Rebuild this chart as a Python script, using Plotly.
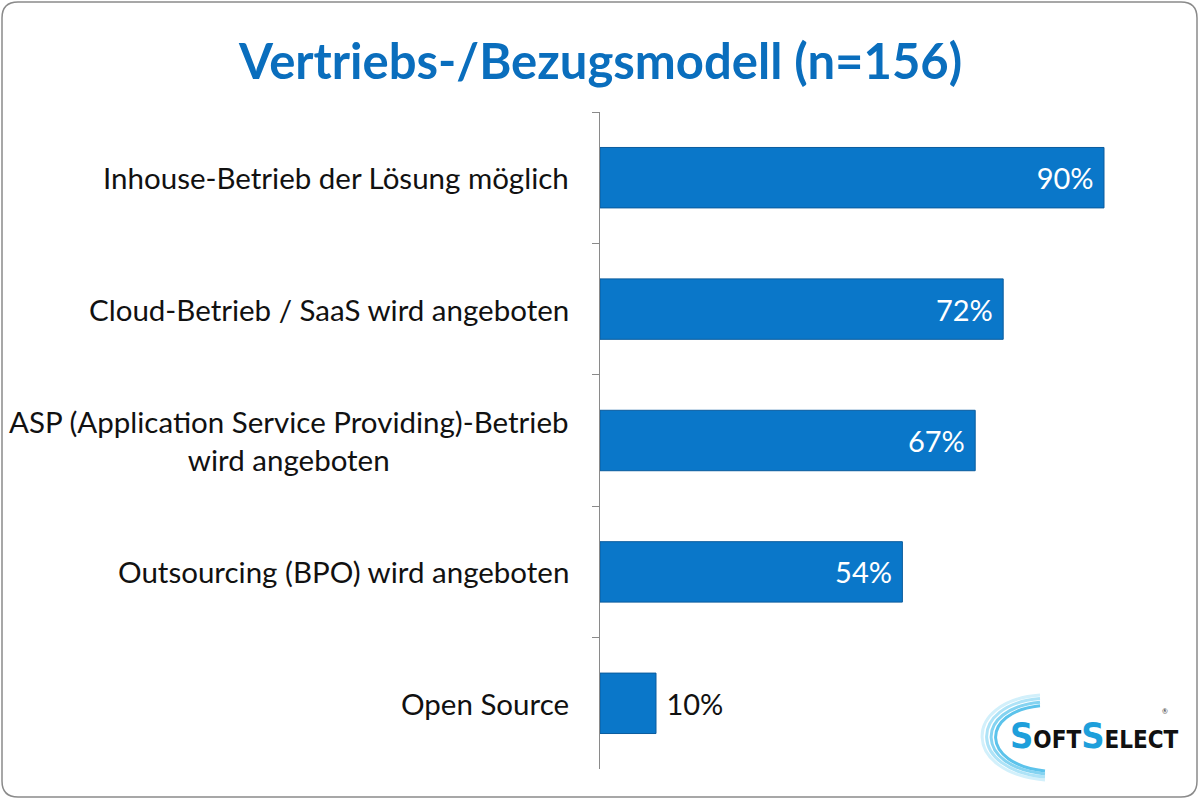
import plotly.graph_objects as go

title = "Vertriebs-/Bezugsmodell (n=156)"
categories = [
    "Inhouse-Betrieb der Lösung möglich",
    "Cloud-Betrieb / SaaS wird angeboten",
    "ASP (Application Service Providing)-Betrieb<br>wird angeboten",
    "Outsourcing (BPO) wird angeboten",
    "Open Source",
]
values = [90, 72, 67, 54, 10]
text_positions = ["inside", "inside", "inside", "inside", "outside"]

W, H = 1200, 800
ML, MR, MT, MB = 600, 40, 112, 31
PW, PH = W - ML - MR, H - MT - MB


def px(x):
    return (x - ML) / PW


def py(y):
    return (H - MB - y) / PH


FONT = "Lato, 'Open Sans', sans-serif"
BLUE = "#0A77C9"

labels = []
for v, pos in zip(values, text_positions):
    if pos == "inside":
        labels.append(f"{v}%\u00a0")
    else:
        labels.append(f"\u00a0{v}%")

fig = go.Figure()
fig.add_trace(go.Bar(
    x=values,
    y=categories,
    orientation="h",
    marker=dict(color=BLUE, line=dict(color="#0A5C9E", width=1)),
    text=labels,
    textposition=text_positions,
    insidetextanchor="end",
    insidetextfont=dict(color="white", size=29, family=FONT),
    outsidetextfont=dict(color="#111111", size=29, family=FONT),
    cliponaxis=False,
    hoverinfo="skip",
))

annotations = []
for c in categories:
    annotations.append(dict(
        x=px(571), xref="paper", y=c, yref="y",
        text=c, showarrow=False, xanchor="right", align="center",
        font=dict(size=29.5, color="#111111", family=FONT),
    ))

annotations.append(dict(
    x=px(600), xref="paper", y=py(60), yref="paper",
    text="<b>" + title + "</b>", showarrow=False, xanchor="center", yanchor="middle",
    font=dict(size=49, color="#0A6EBD", family=FONT),
))

# Logo text
big = "<span style='font-size:36px;color:#1E9FDB'>S</span>"
annotations.append(dict(
    x=px(1094), xref="paper", y=py(735), yref="paper",
    text="<b>" + big + "OFT" + big + "ELECT</b>",
    showarrow=False, xanchor="center", yanchor="middle",
    font=dict(size=24, color="#111111",
              family="'Liberation Sans Narrow', 'DejaVu Sans Condensed', 'Liberation Sans', sans-serif"),
))
annotations.append(dict(
    x=px(1170), xref="paper", y=py(717), yref="paper",
    text="®", showarrow=False, font=dict(size=7, color="#333"),
))

shapes = []
# rounded border
x0, x1, y0, y1, r = 2, 1197, 2, 797, 16
path = (f"M {px(x0 + r)},{py(y0)} L {px(x1 - r)},{py(y0)} Q {px(x1)},{py(y0)} {px(x1)},{py(y0 + r)} "
        f"L {px(x1)},{py(y1 - r)} Q {px(x1)},{py(y1)} {px(x1 - r)},{py(y1)} "
        f"L {px(x0 + r)},{py(y1)} Q {px(x0)},{py(y1)} {px(x0)},{py(y1 - r)} "
        f"L {px(x0)},{py(y0 + r)} Q {px(x0)},{py(y0)} {px(x0 + r)},{py(y0)} Z")
shapes.append(dict(type="path", path=path, xref="paper", yref="paper",
                   line=dict(color="#8a8a8a", width=1.5), layer="below"))

# logo arcs (decorative swoosh)
arc_cols = ["#D2F0FB", "#AEE3F7", "#84D3F1", "#5CC3EB"]
for i, col in enumerate(arc_cols):
    d = i * 6
    sx, sy = 1040, 695 + d * 0.6
    ex, ey = 1045, 780 - d * 0.5
    c1x, c1y = 962 + d, 701 + d * 0.6
    c2x, c2y = 962 + d, 773 - d * 0.5
    shapes.append(dict(
        type="path",
        path=f"M {px(sx)},{py(sy)} C {px(c1x)},{py(c1y)} {px(c2x)},{py(c2y)} {px(ex)},{py(ey)}",
        xref="paper", yref="paper", line=dict(color=col, width=3), layer="below"))

fig.update_layout(
    width=W, height=H,
    margin=dict(l=ML, r=MR, t=MT, b=MB),
    paper_bgcolor="white", plot_bgcolor="white",
    showlegend=False,
    bargap=0.54,
    xaxis=dict(range=[0, 100], visible=False),
    yaxis=dict(
        autorange="reversed", showticklabels=False,
        showline=True, linecolor="#8a8a8a", linewidth=1.2,
        ticks="outside", tickson="boundaries", ticklen=7, tickcolor="#8a8a8a",
        showgrid=False, zeroline=False,
    ),
    annotations=annotations,
    shapes=shapes,
    font=dict(family=FONT),
)

fig.write_html("out.html", config={"displayModeBar": False},
               post_script="document.body.style.margin='0';")
